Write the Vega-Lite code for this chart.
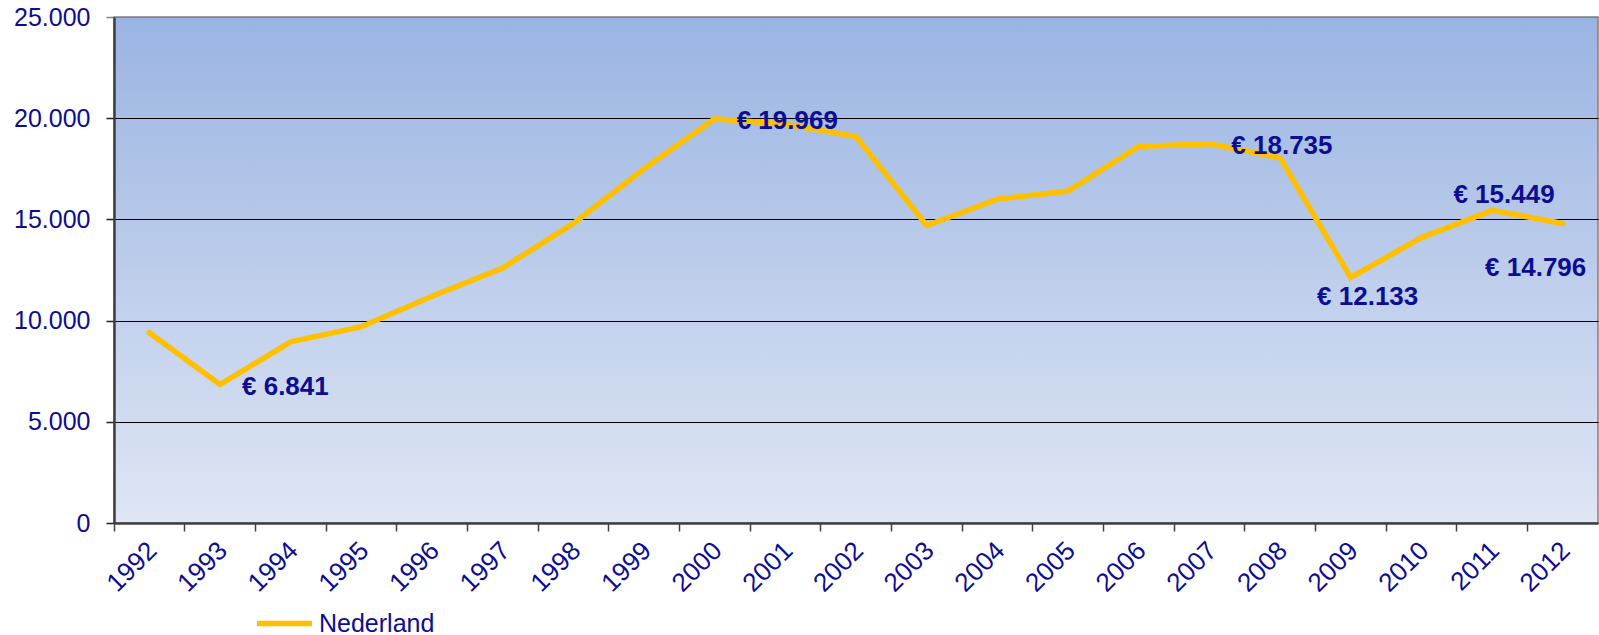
{
  "$schema": "https://vega.github.io/schema/vega-lite/v6.json",
  "autosize": {"type": "none"},
  "padding": {"left": 114, "top": 17, "right": 1, "bottom": 112},
  "width": 1484,
  "height": 506,
  "background": "white",
  "config": {
    "locale": {"number": {"decimal": ",", "thousands": ".", "grouping": [3], "currency": ["€ ", ""]}},
    "font": "Liberation Sans",
    "view": {
      "stroke": "#808080",
      "strokeWidth": 1.5,
      "fill": {"gradient": "linear", "x1": 0, "y1": 0, "x2": 0, "y2": 1,
        "stops": [{"offset": 0, "color": "#9AB4E2"}, {"offset": 1, "color": "#DFE6F4"}]}
    }
  },
  "data": {"values": [
    {"year": "1992", "value": 9400},
    {"year": "1993", "value": 6841},
    {"year": "1994", "value": 8950},
    {"year": "1995", "value": 9700},
    {"year": "1996", "value": 11200},
    {"year": "1997", "value": 12600},
    {"year": "1998", "value": 14800},
    {"year": "1999", "value": 17500},
    {"year": "2000", "value": 19969},
    {"year": "2001", "value": 19700},
    {"year": "2002", "value": 19100},
    {"year": "2003", "value": 14700},
    {"year": "2004", "value": 16000},
    {"year": "2005", "value": 16400},
    {"year": "2006", "value": 18600},
    {"year": "2007", "value": 18735},
    {"year": "2008", "value": 18050},
    {"year": "2009", "value": 12133},
    {"year": "2010", "value": 14100},
    {"year": "2011", "value": 15449},
    {"year": "2012", "value": 14796}
  ]},
  "encoding": {
    "x": {
      "field": "year", "type": "ordinal",
      "scale": {"type": "band", "paddingInner": 0, "paddingOuter": 0},
      "axis": {
        "title": null, "bandPosition": 0, "grid": false,
        "domainColor": "#404040", "domainWidth": 2.5,
        "tickColor": "#404040", "tickWidth": 1.5, "tickSize": 8,
        "labelAngle": -45, "labelFontSize": 26, "labelColor": "#0D0D91",
        "labelPadding": 6, "labelOffset": -6
      }
    },
    "y": {
      "field": "value", "type": "quantitative",
      "scale": {"domain": [0, 25000], "nice": false},
      "axis": {
        "title": null, "values": [0, 5000, 10000, 15000, 20000, 25000],
        "format": ",d",
        "gridColor": {"condition": {"test": "datum.value === 25000", "value": "#808080"}, "value": "#000000"},
        "gridWidth": 1,
        "domainColor": "#404040", "domainWidth": 2.5,
        "tickColor": {"condition": {"test": "datum.value === 25000", "value": "#808080"}, "value": "#202020"},
        "tickWidth": 1.5, "tickSize": 8,
        "labelFontSize": 25, "labelColor": "#0D0D91", "labelPadding": 16
      }
    }
  },
  "layer": [
    {
      "mark": {"type": "line", "strokeWidth": 5.5, "strokeJoin": "miter", "strokeCap": "round"},
      "encoding": {
        "color": {
          "datum": "Nederland",
          "scale": {"range": ["#FFC000"]},
          "legend": {
            "title": null, "orient": "none", "legendX": 140, "legendY": 576,
            "padding": 0, "symbolType": "stroke", "symbolSize": 3025, "symbolStrokeWidth": 5.5,
            "symbolStrokeColor": "#FFC000",
            "labelFontSize": 25, "labelColor": "#0D0D91", "labelOffset": 4
          }
        }
      }
    },
    {
      "transform": [{"filter": "datum.year === '1993' || datum.year === '2000' || datum.year === '2007'"}],
      "mark": {"type": "text", "align": "left", "baseline": "middle", "dx": 22, "dy": 2, "fontSize": 26, "fontWeight": "bold", "color": "#0D0D91"},
      "encoding": {"text": {"field": "value", "type": "quantitative", "format": "$,d"}}
    },
    {
      "transform": [{"filter": "datum.year === '2009'"}],
      "mark": {"type": "text", "align": "center", "baseline": "middle", "dx": 17, "dy": 20, "fontSize": 26, "fontWeight": "bold", "color": "#0D0D91"},
      "encoding": {"text": {"field": "value", "type": "quantitative", "format": "$,d"}}
    },
    {
      "transform": [{"filter": "datum.year === '2011'"}],
      "mark": {"type": "text", "align": "center", "baseline": "middle", "dx": 12, "dy": -15, "fontSize": 26, "fontWeight": "bold", "color": "#0D0D91"},
      "encoding": {"text": {"field": "value", "type": "quantitative", "format": "$,d"}}
    },
    {
      "transform": [{"filter": "datum.year === '2012'"}],
      "mark": {"type": "text", "align": "center", "baseline": "middle", "dx": -27, "dy": 44, "fontSize": 26, "fontWeight": "bold", "color": "#0D0D91"},
      "encoding": {"text": {"field": "value", "type": "quantitative", "format": "$,d"}}
    }
  ]
}
